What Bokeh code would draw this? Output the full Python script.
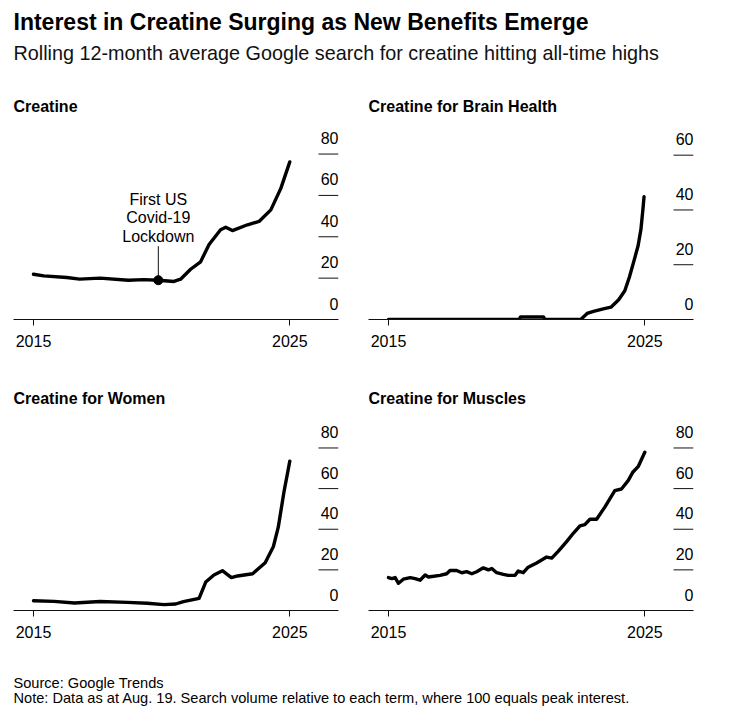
import math
from bokeh.plotting import figure
from bokeh.layouts import column, row
from bokeh.models import Range1d, FixedTicker
from bokeh.core.properties import value
from bokeh.embed import file_html
from bokeh.resources import INLINE

FONT = "Liberation Sans"

TITLE = "Interest in Creatine Surging as New Benefits Emerge"
SUBTITLE = "Rolling 12-month average Google search for creatine hitting all-time highs"
SOURCE = "Source: Google Trends"
NOTE = "Note: Data as at Aug. 19. Search volume relative to each term, where 100 equals peak interest."

panel_titles = ["Creatine", "Creatine for Brain Health", "Creatine for Women", "Creatine for Muscles"]

x_tick_values = [2015, 2025]
x_tick_labels = ["2015", "2025"]
y_ticks_80 = [0, 20, 40, 60, 80]
y_ticks_60 = [0, 20, 40, 60]

# Creatine
creatine_x = [2015.0, 2015.4, 2016.3, 2016.8, 2017.6, 2018.7, 2019.3, 2019.87, 2020.48, 2020.74,
              2021.13, 2021.52, 2021.85, 2022.3, 2022.5, 2022.76, 2023.35, 2023.8, 2024.26, 2024.65, 2025.0]
creatine_y = [21.9, 21.1, 20.3, 19.5, 20.0, 19.0, 19.3, 19.0, 18.4, 19.5,
              24.3, 27.9, 36.3, 43.4, 44.6, 43.0, 45.8, 47.4, 53.0, 63.4, 76.2]

# Creatine for Brain Health
brain_x = [2015.0, 2020.1, 2020.15, 2021.05, 2021.1, 2022.5, 2022.75, 2023.0, 2023.38, 2023.68,
           2023.98, 2024.22, 2024.4, 2024.58, 2024.74, 2024.85, 2024.93, 2024.97]
brain_y = [0.0, 0.0, 0.9, 0.9, 0.0, 0.0, 2.2, 3.0, 3.9, 4.5,
           7.2, 10.5, 15.5, 21.5, 27.0, 33.0, 40.6, 44.8]

# Creatine for Women
women_x = [2015.0, 2015.8, 2016.6, 2017.6, 2018.66, 2019.44, 2020.09, 2020.55, 2020.85, 2021.46,
           2021.72, 2022.04, 2022.37, 2022.72, 2022.96, 2023.55, 2024.04, 2024.36, 2024.55, 2024.77, 2025.0]
women_y = [4.8, 4.5, 3.7, 4.4, 4.0, 3.6, 2.9, 3.2, 4.4, 6.0,
           14.0, 17.5, 19.6, 16.2, 17.0, 18.1, 23.5, 31.5, 41.0, 58.2, 73.5]

# Creatine for Muscles
muscles_x = [2015.0, 2015.13, 2015.26, 2015.39, 2015.58, 2015.85, 2016.04, 2016.23, 2016.43, 2016.56,
             2017.01, 2017.27, 2017.4, 2017.66, 2017.86, 2018.05, 2018.25, 2018.44, 2018.7, 2018.9,
             2019.03, 2019.22, 2019.48, 2019.67, 2019.94, 2020.06, 2020.26, 2020.45, 2020.78, 2021.17,
             2021.37, 2021.62, 2021.95, 2022.21, 2022.47, 2022.66, 2022.86, 2023.12, 2023.44, 2023.83,
             2024.09, 2024.35, 2024.54, 2024.74, 2025.0]
muscles_y = [16.2, 15.7, 16.2, 13.4, 15.4, 16.2, 15.7, 14.9, 17.5, 16.5,
             17.3, 18.1, 19.7, 19.7, 18.6, 19.1, 18.1, 19.1, 21.0, 20.0,
             20.7, 18.6, 17.8, 17.3, 17.3, 19.4, 18.6, 21.3, 23.4, 26.3,
             25.8, 29.1, 33.9, 38.0, 41.7, 42.3, 44.9, 44.9, 50.9, 59.0,
             59.8, 63.9, 68.2, 70.8, 77.9]

covid_x = 2019.87
covid_y = 19.0
covid_label = "First US\nCovid-19\nLockdown"

X0, X1 = 2014.22, 2026.9


def make_panel(title, xs, ys, ymax, yticks, width, height, left, right, top, bottom):
    p = figure(width=width, height=height, x_range=Range1d(X0, X1), y_range=Range1d(0, ymax),
               output_backend="svg", toolbar_location=None, y_axis_location=None,
               min_border_left=left, min_border_right=right, min_border_top=top,
               min_border_bottom=bottom)
    p.outline_line_color = None
    p.grid.visible = False
    p.background_fill_color = "white"
    p.border_fill_color = "white"
    ax = p.xaxis[0]
    ax.ticker = FixedTicker(ticks=x_tick_values)
    ax.major_label_overrides = {v: l for v, l in zip(x_tick_values, x_tick_labels)}
    ax.minor_tick_line_color = None
    ax.major_tick_in = 0
    ax.major_tick_out = 6
    ax.axis_line_color = "#111111"
    ax.major_tick_line_color = "#111111"
    ax.major_label_text_font = FONT
    ax.major_label_text_font_size = "16px"
    ax.major_label_text_color = "#000000"
    ax.major_label_standoff = 9

    p.title.text = title
    p.title.text_font = FONT
    p.title.text_font_size = "16px"
    p.title.text_font_style = "bold"
    p.title.text_color = "#000000"
    p.title.align = "left"
    p.title.offset = 0
    p.title.standoff = 14

    tick_lines = [t for t in yticks if t > 0]
    p.ray(x=[X1] * len(tick_lines), y=tick_lines, length=20, length_units="screen",
          angle=math.pi, line_color="#111111", line_width=1)
    p.text(x=[X1] * len(yticks), y=yticks, text=[str(t) for t in yticks],
           text_align="right", text_baseline="alphabetic", y_offset=-16,
           text_font=value(FONT), text_font_size="16px", text_color="#000000")

    p.line(xs, ys, line_width=3.4, line_color="#000000", line_join="round", line_cap="round")
    return p


LW, RW = 363, 367
p1 = make_panel(panel_titles[0], creatine_x, creatine_y, 95.74, y_ticks_80, LW, 292, 13, 25, 31, 61)
p2 = make_panel(panel_titles[1], brain_x, brain_y, 72.3, y_ticks_60, RW, 292, 5, 37, 31, 61)
p3 = make_panel(panel_titles[2], women_x, women_y, 96.97, y_ticks_80, LW, 280, 13, 25, 30, 50)
p4 = make_panel(panel_titles[3], muscles_x, muscles_y, 96.97, y_ticks_80, RW, 280, 5, 37, 30, 50)

# Covid annotation on the Creatine panel
p1.ray(x=[covid_x], y=[covid_y], length=34, length_units="screen", angle=math.pi / 2,
       line_color="#111111", line_width=1)
p1.scatter(x=[covid_x], y=[covid_y], size=9, color="#000000")
p1.text(x=[covid_x], y=[covid_y], text=[covid_label], text_align="center", text_baseline="bottom",
        y_offset=-35, text_font=value(FONT), text_font_size="16px", text_color="#000000",
        text_line_height=1.1)


def text_fig(width, height):
    f = figure(width=width, height=height, x_range=Range1d(0, width), y_range=Range1d(0, height),
               output_backend="svg", toolbar_location=None, x_axis_location=None,
               y_axis_location=None, min_border=0)
    f.outline_line_color = None
    f.grid.visible = False
    return f


header = text_fig(730, 88)
header.text(x=[13], y=[67], text=[TITLE], text_baseline="middle", text_font=value(FONT),
            text_font_size="23px", text_font_style="bold", text_color="#000000")
header.text(x=[13], y=[36], text=[SUBTITLE], text_baseline="middle", text_font=value(FONT),
            text_font_size="19.8px", text_color="#111111")

footer = text_fig(730, 47)
footer.text(x=[13], y=[25], text=[SOURCE], text_baseline="middle", text_font=value(FONT),
            text_font_size="14.6px", text_color="#000000")
footer.text(x=[13], y=[10], text=[NOTE], text_baseline="middle", text_font=value(FONT),
            text_font_size="14.6px", text_color="#000000")

layout = column(header, row(p1, p2), row(p3, p4), footer)
open("out.html", "w").write(file_html(layout, INLINE))
